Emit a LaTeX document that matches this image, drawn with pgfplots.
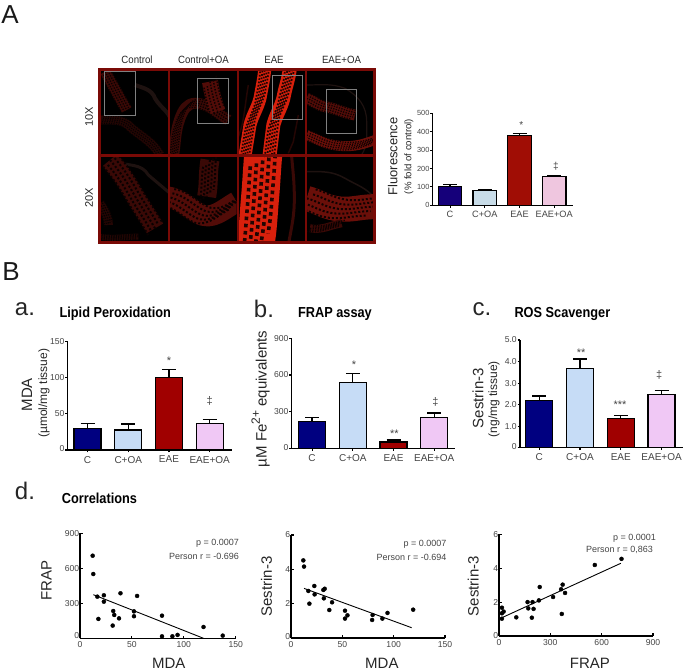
\documentclass[border=0pt]{standalone}
\usepackage{fontspec}
\setmainfont{Liberation Sans}
\usepackage{pgfplots}
\pgfplotsset{compat=1.18}
\definecolor{navyA}{HTML}{15007A}\definecolor{lblueA}{HTML}{C8DCE8}\definecolor{redA}{HTML}{A00D05}\definecolor{pinkA}{HTML}{EFC6DF}
\definecolor{navyB}{HTML}{000080}\definecolor{lblueB}{HTML}{C6DCF6}\definecolor{redB}{HTML}{A00000}\definecolor{pinkB}{HTML}{F0C8F5}
\definecolor{tk}{HTML}{444444}
\definecolor{frm}{HTML}{7A0A06}
\definecolor{t1}{HTML}{240604}\definecolor{t2}{HTML}{3A0906}\definecolor{t3}{HTML}{520C08}\definecolor{t4}{HTML}{6A0F09}
\definecolor{hot}{HTML}{D8200C}\definecolor{gr}{HTML}{1E1210}
\newcommand{\fs}[1]{\fontsize{#1}{#1}\selectfont}
\newcommand{\onebar}[4]{\addplot[fill=#1,draw=black,line width=1.2pt,error bars/.cd,y dir=plus,y explicit,error bar style={black,line width=1.2pt},error mark options={black,rotate=90,line width=1.2pt,mark size=7pt}] coordinates {(#2,#3)+-(0,#4)};}
% tissue band: colour, width, hole size, hole offset, path
\newcommand{\cell}[5]{%
 \draw[line width=#2,draw=#1,line cap=butt,line join=round] #5;
 \foreach \s/\ph in {-2/0pt,-1/#3,0/0pt,1/#3,2/0pt}{
  \draw[line width=#3,draw=black!85!#1,dash pattern=on #3 off #3,dash phase=\ph,xshift=\s*#4,yshift=\s*#4] #5;}
}
\newcommand{\pan}[5]{\begin{scope}\clip (#1,#2) rectangle (#3,#4);#5\end{scope}}
\pgfplotsset{
 common/.style={scale only axis,clip=false,enlargelimits=false,axis x line*=bottom,axis y line*=left,
   axis line style={line width=1.2pt,black},tick style={black,line width=1.1pt},major tick length=2.5pt,
   /pgf/number format/assume math mode=true,
   yticklabel style={font=\fs{8.6},text=tk,inner sep=.6pt},
   xticklabel style={font=\fs{8.6},text=tk},
   every axis title shift=0pt,
   ylabel style={font=\fs{15},text=black!85,inner sep=0pt},xlabel style={font=\fs{15},text=black!85,inner sep=0pt}},
 barax/.style={common,ybar=0pt,bar shift=0pt,tick align=outside,ymin=0,xtick={0,1,2,3},
   xticklabels={C,C+OA,EAE,EAE+OA},xticklabel style={font=\fs{10},text=tk},
   title style={font=\fs{14.5}\bfseries,xscale=.88,anchor=center}},
 scat/.style={common,tick align=inside,xmin=0,xmax=150,ymin=0}
}
\tikzset{big/.style={font=\fs{26},inner sep=0pt,text=black!90},
 hd/.style={font=\fs{24},inner sep=0pt,text=black!85},
 sm/.style={font=\fs{9},text=tk,inner sep=0pt,anchor=east}}
\begin{document}
\begin{tikzpicture}
\useasboundingbox (0,0) rectangle (685pt,671pt);
% ---------- micrograph panels (image stand-in)
\fill[black] (99pt,428pt) rectangle (374pt,601pt);
\begin{scope}[x=0.33333pt,y=-0.33333pt,shift={(95pt,606pt)}]
 \pan{12}{15}{222}{272}{
 % control 10X
 \draw[line width=4pt,draw=gr] (120,60) to[out=-20,in=110] (180,100) to[out=-60,in=90] (230,180);
 \cell{t2}{11pt}{1.3pt}{2pt}{(30,20) to[out=-60,in=120] (95,135)}
 \cell{t1}{9pt}{1.2pt}{1.7pt}{(15,165) to[out=0,in=130] (110,190) to[out=-40,in=120] (195,270)}
 }
 \pan{222}{15}{425}{272}{
 % control+OA 10X
 \cell{t2}{11pt}{1.3pt}{2pt}{(235,275) to[out=80,in=250] (255,160) to[out=70,in=180] (300,115) to[out=0,in=150] (400,165)}
 \cell{t3}{16pt}{1.5pt}{3pt}{(345,50) to[out=-80,in=110] (368,140)}
 }
 \pan{12}{272}{222}{535}{
 % control 20X
 \draw[line width=3pt,draw=gr] (60,290) to[out=-20,in=120] (160,330) to (225,385);
 \cell{t2}{19pt}{2pt}{3.4pt}{(45,285) to[out=-50,in=120] (115,385) to[out=-60,in=120] (180,490)}
 \cell{t1}{6pt}{1.2pt}{1.3pt}{(12,515) to[out=-10,in=180] (130,515)}
 \cell{t1}{9pt}{1.3pt}{1.7pt}{(15,415) to[out=-60,in=90] (40,480)}
 }
 \pan{222}{272}{425}{535}{
 % control+OA 20X
 \cell{t3}{21pt}{2pt}{3.8pt}{(215,395) to[out=-10,in=150] (310,445) to[out=-30,in=210] (425,410)}
 \cell{t2}{19pt}{2pt}{3.4pt}{(345,285) to[out=-100,in=80] (335,395)}
 }
\end{scope}
\begin{scope}[x=0.33333pt,y=-0.33333pt,shift={(235pt,606pt)}]
 \pan{8}{15}{212}{272}{
 % EAE 10X
 \draw[line width=1.5pt,draw=t1] (40,60) to[out=-100,in=80] (25,160) to[out=-100,in=70] (5,230);
 \draw[line width=1.5pt,draw=t1] (190,150) to[out=-100,in=80] (175,230) to (160,265);
 \cell{hot}{13pt}{1.7pt}{2.4pt}{(90,5) to[out=-95,in=80] (75,100) to[out=-105,in=75] (45,180) to (28,285)}
 \cell{hot}{14pt}{1.8pt}{2.6pt}{(165,5) to[out=-95,in=80] (145,100) to[out=-105,in=75] (115,180) to (102,285)}
 }
 \pan{8}{272}{212}{535}{
 % EAE 20X
 \draw[line width=3pt,draw=t2] (170,275) to[out=-85,in=90] (178,400) to[out=-90,in=80] (160,540);
 \cell{hot}{38pt}{3.6pt}{6.5pt}{(85,265) to[out=-95,in=85] (75,400) to[out=-95,in=80] (60,545)}
 }
 \pan{212}{15}{420}{272}{
 % EAE+OA 10X
 \draw[line width=1.2pt,draw=gr] (215,60) to[out=0,in=160] (330,70) to[out=-30,in=90] (395,170) to[out=-90,in=60] (380,270);
 \cell{t3}{11pt}{1.3pt}{2pt}{(215,100) to[out=-20,in=170] (270,125) to[out=-10,in=170] (360,150)}
 \cell{t4}{10pt}{1.3pt}{1.9pt}{(215,210) to[out=-20,in=170] (295,240) to[out=-10,in=200] (420,225)}
 }
 \pan{212}{272}{420}{535}{
 % EAE+OA 20X
 \draw[line width=1.5pt,draw=gr] (215,320) to[out=0,in=150] (330,340) to[out=-30,in=130] (420,400);
 \cell{t4}{25pt}{2pt}{4.5pt}{(215,400) to[out=-15,in=170] (300,430) to[out=-10,in=180] (420,425)}
 \cell{t2}{8pt}{1.3pt}{1.5pt}{(225,490) to[out=-10,in=190] (320,475)}
 }
\end{scope}
\draw[draw=frm,line width=3pt] (99pt,428pt) rectangle (374pt,601pt);
\draw[draw=frm,line width=1.6pt] (169pt,428pt) -- (169pt,601pt) (237.7pt,428pt) -- (237.7pt,601pt) (305.7pt,428pt) -- (305.7pt,601pt);
\draw[draw=frm,line width=3pt] (99pt,515.3pt) -- (374pt,515.3pt);
\draw[draw=gray,line width=.7pt]
 (104.3pt,599.3pt) rectangle (135pt,555.3pt)
 (197.3pt,592.7pt) rectangle (228.3pt,547.7pt)
 (272.3pt,596pt) rectangle (302.7pt,551.7pt)
 (326.3pt,582pt) rectangle (356.7pt,537.7pt);
% ---------- texts placed in image pixels
\begin{scope}[x=1pt,y=-1pt,shift={(0pt,671pt)}]
\node[big] at (10,15) {A};
\node[big] at (11,272) {B};
\node[hd] at (25,309) {a.};
\node[hd] at (264,309) {b.};
\node[hd] at (482,309) {c.};
\node[hd] at (25,491) {d.};
\foreach \x/\t in {137/Control,203.5/Control+OA,274/EAE,341.5/EAE+OA}
  \node[font=\fs{10.5},text=black!85,inner sep=0pt,xscale=.92] at (\x,60) {\t};
\node[font=\fs{11},text=black!85,inner sep=0pt,rotate=90] at (89,117) {10X};
\node[font=\fs{11},text=black!85,inner sep=0pt,rotate=90] at (89,198) {20X};
\node[sm] at (239,543.3) {p = 0.0007};
\node[sm] at (239,556) {Person r = -0.696};
\node[sm] at (446.7,544.7) {p = 0.0007};
\node[sm] at (446.7,557) {Person r = -0.694};
\node[sm] at (656,538.3) {p = 0.0001};
\node[sm] at (653,550.3) {Person r = 0,863};
\end{scope}
% ---------- panel A bars
\begin{axis}[barax,at={(432.7pt,465.7pt)},anchor=south west,width=140.3pt,height=92pt,bar width=23.5pt,
  xmin=-0.5,xmax=3.54,ymax=500,ytick={0,100,200,300,400,500},
  yticklabel style={font=\fs{7.4}},xticklabel style={font=\fs{9.2}},
  ylabel={Fluorescence},ylabel style={font=\fs{13},at={(axis description cs:-0.285,0.53)},anchor=center}]
\onebar{navyA}{0}{100}{15}
\onebar{lblueA}{1}{80}{5}
\onebar{redA}{2}{378}{14}
\onebar{pinkA}{3}{155}{7}
\node[font=\fs{10},text=tk,inner sep=0pt] at (axis cs:2.05,436) {*};
\node[font=\fs{10},text=tk,inner sep=0pt] at (axis cs:3.05,215) {‡};
\node[font=\fs{9.6},text=black!85,inner sep=0pt,rotate=90] at (axis description cs:-0.17,0.53) {(\% fold of control)};
\end{axis}
% ---------- panel a
\begin{axis}[barax,at={(67.7pt,221pt)},anchor=south west,width=164pt,height=108.3pt,bar width=27pt,
  xmin=-0.487,xmax=3.54,ymax=150,ytick={0,50,100,150},yticklabels={\raisebox{2pt}{0},50,100,150},
  ylabel={MDA},ylabel style={at={(axis description cs:-0.248,0.51)},anchor=center},
  title={Lipid Peroxidation},title style={at={(axis description cs:0.29,1.255)}}]
\onebar{navyB}{0}{30}{7}
\onebar{lblueB}{1}{27.7}{8.3}
\onebar{redB}{2}{100}{11}
\onebar{pinkB}{3}{36.5}{6}
\node[font=\fs{11},text=tk,inner sep=0pt] at (axis cs:2,123) {*};
\node[font=\fs{11},text=tk,inner sep=0pt] at (axis cs:3,68) {‡};
\node[font=\fs{12},text=black!85,inner sep=0pt,rotate=90] at (axis description cs:-0.144,0.525) {(µmol/mg tissue)};
\end{axis}
% ---------- panel b
\begin{axis}[barax,at={(291.7pt,222.7pt)},anchor=south west,width=163.3pt,height=110pt,bar width=27pt,
  xmin=-0.5,xmax=3.51,ymax=900,ytick={0,300,600,900},yticklabels={\raisebox{2pt}{0},300,600,900},
  ylabel={µM Fe\raisebox{.45em}{\fs{12}2+} equivalents},ylabel style={at={(axis description cs:-0.19,0.45)},anchor=center},
  title={FRAP assay},title style={at={(axis description cs:0.265,1.225)}}]
\onebar{navyB}{0}{221}{30}
\onebar{lblueB}{1}{540}{74}
\onebar{redB}{2}{52}{16}
\onebar{pinkB}{3}{251}{38}
\node[font=\fs{11},text=tk,inner sep=0pt] at (axis cs:1.03,680) {*};
\node[font=\fs{11},text=tk,inner sep=0pt] at (axis cs:2.02,120) {**};
\node[font=\fs{11},text=tk,inner sep=0pt] at (axis cs:3.03,380) {‡};
\end{axis}
% ---------- panel c
\begin{axis}[barax,at={(520pt,223.3pt)},anchor=south west,width=163pt,height=107.7pt,bar width=27pt,
  xmin=-0.47,xmax=3.525,ymax=5,ytick={0,1,2,3,4,5},yticklabels={\raisebox{2pt}{0},1.0,2.0,3.0,4.0,5.0},
  ylabel={Sestrin-3},ylabel style={at={(axis description cs:-0.258,0.46)},anchor=center},
  title={ROS Scavenger},title style={at={(axis description cs:0.26,1.245)}}]
\onebar{navyB}{0}{2.18}{.22}
\onebar{lblueB}{1}{3.68}{.44}
\onebar{redB}{2}{1.35}{.14}
\onebar{pinkB}{3}{2.48}{.17}
\node[font=\fs{11},text=tk,inner sep=0pt] at (axis cs:1.03,4.4) {**};
\node[font=\fs{11},text=tk,inner sep=0pt] at (axis cs:1.98,2.0) {***};
\node[font=\fs{11},text=tk,inner sep=0pt] at (axis cs:2.94,3.4) {‡};
\node[font=\fs{12},text=black!85,inner sep=0pt,rotate=90] at (axis description cs:-0.16,0.45) {(ng/mg tissue)};
\end{axis}
% ---------- correlations
\begin{axis}[scat,at={(80pt,32.7pt)},anchor=south west,width=155.7pt,height=105pt,ymax=900,
  xtick={0,50,100,150},ytick={0,300,600,900},yticklabels={\raisebox{5pt}{0},300,600,900},
  xlabel={MDA},xlabel style={at={(axis description cs:0.57,-0.238)},anchor=center},
  ylabel={FRAP},ylabel style={at={(axis description cs:-0.215,0.55)},anchor=center},
  title={Correlations},title style={font=\fs{14.5}\bfseries,xscale=.88,anchor=center,at={(axis description cs:0.125,1.335)}}]
\addplot[only marks,mark=*,mark size=2pt,black] coordinates {
(12.2,708)(12.8,551)(16.7,357)(17.7,166)(23,369)(23,314)(32,234)(33,200)(31.5,109)(37.6,171)
(39,386)(52,231)(52,189)(55,363)(79,194)(79,17)(89,17)(94,29)(119,97)(137.5,23)};
\addplot[black,line width=.9pt] coordinates {(12.8,374)(119,0)};
\end{axis}
\begin{axis}[scat,at={(291pt,33pt)},anchor=south west,width=154pt,height=103pt,ymax=6,
  xtick={0,50,100,150},ytick={0,2,4,6},yticklabels={\raisebox{3pt}{0},2,4,6},
  xlabel={MDA},xlabel style={at={(axis description cs:0.59,-0.243)},anchor=center},
  ylabel={Sestrin-3},ylabel style={at={(axis description cs:-0.159,0.5)},anchor=center}]
\addplot[only marks,mark=*,mark size=2pt,black] coordinates {
(12,4.52)(12.7,4.16)(16.9,2.74)(17.9,2.0)(22.7,3.03)(23,2.54)(31.5,2.8)(32.8,2.87)(32,2.31)(40,2.08)
(37.3,1.63)(52.6,1.59)(52.6,1.13)(55,1.32)(79.5,1.34)(79,1.05)(89,1.13)(94,1.46)(119,1.65)};
\addplot[black,line width=.9pt] coordinates {(12.7,2.89)(117.5,0.6)};
\end{axis}
\begin{axis}[scat,at={(499pt,35pt)},anchor=south west,width=154pt,height=101.7pt,xmax=900,ymax=6,
  xtick={0,300,600,900},ytick={0,2,4,6},yticklabels={\raisebox{2pt}{0},2,4,6},
  xlabel={FRAP},xlabel style={at={(axis description cs:0.59,-0.265)},anchor=center},
  ylabel={Sestrin-3},ylabel style={at={(axis description cs:-0.167,0.49)},anchor=center}]
\addplot[only marks,mark=*,mark size=2pt,black] coordinates {
(716,4.55)(560,4.19)(238,2.89)(372,3.03)(363,2.76)(386,2.54)(316,2.3)(233,2.1)(167,2.0)(196,2.0)
(171,1.63)(202,1.6)(192,1.08)(367,1.3)(101,1.1)(17,1.67)(27,1.44)(17,1.34)(17,1.02)};
\addplot[black,line width=.9pt] coordinates {(17,1.08)(712,4.29)};
\end{axis}
\end{tikzpicture}
\end{document}
